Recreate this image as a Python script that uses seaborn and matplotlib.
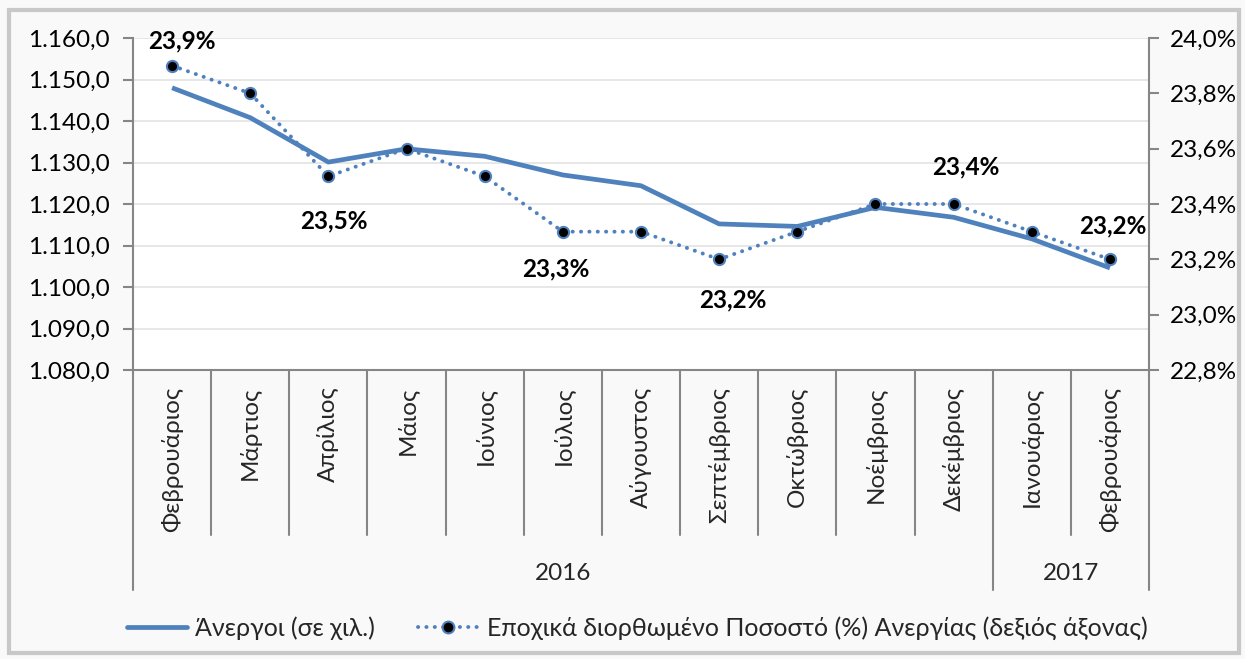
import numpy as np
import pandas as pd
import matplotlib
matplotlib.use('Agg')
import matplotlib.pyplot as plt
import seaborn as sns
from matplotlib.patches import Rectangle
from matplotlib.lines import Line2D
from matplotlib.ticker import FuncFormatter, MultipleLocator

months = ['Φεβρουάριος', 'Μάρτιος', 'Απρίλιος', 'Μάιος', 'Ιούνιος', 'Ιούλιος',
          'Αύγουστος', 'Σεπτέμβριος', 'Οκτώβριος', 'Νοέμβριος', 'Δεκέμβριος',
          'Ιανουάριος', 'Φεβρουάριος']
years = ['2016', '2017']
year_counts = [11, 2]

# unemployed persons (thousands), left axis
unemployed = [1148.0, 1140.8, 1130.1, 1133.3, 1131.5, 1127.0, 1124.4,
              1115.2, 1114.6, 1119.2, 1116.8, 1111.6, 1104.6]
# seasonally adjusted unemployment rate (%), right axis
rate = [23.9, 23.8, 23.5, 23.6, 23.5, 23.3, 23.3, 23.2, 23.3, 23.4, 23.4, 23.3, 23.2]

# which points get a value label, and the label offset in points
label_idx = [0, 2, 5, 7, 10, 12]
label_off = [(7, 18), (4, -32), (-5, -27), (10, -29), (9, 27), (2, 24)]

sns.set_style('white')
plt.rcParams['font.family'] = ['Lato', 'DejaVu Sans']

blue = '#4F81BD'
grey = '#868686'
fs = 17.5

df = pd.DataFrame({'pos': np.arange(len(months)), 'month': months,
                   'unemployed': unemployed, 'rate': rate})

fig = plt.figure(figsize=(12.45, 6.59), dpi=100, facecolor='#f9f9f9')
W, H = 1245, 659
x0, x1, y0, y1 = 133, 1149, 38, 370
ax = fig.add_axes([x0 / W, 1 - y1 / H, (x1 - x0) / W, (y1 - y0) / H])
ax.set_facecolor('white')

sns.lineplot(data=df, x='pos', y='unemployed', ax=ax, color=blue, lw=3.4,
             solid_capstyle='butt', legend=False)
ax.set_xlim(-0.5, len(months) - 0.5)
ax.set_ylim(1080, 1160)
ax.yaxis.set_major_locator(MultipleLocator(10))
ax.yaxis.set_major_formatter(FuncFormatter(
    lambda v, p: f'{v:,.1f}'.replace(',', 'X').replace('.', ',').replace('X', '.')))
ax.grid(axis='y', color='#e3e3e3', lw=1.2)
ax.set_axisbelow(True)

ax2 = ax.twinx()
sns.lineplot(data=df, x='pos', y='rate', ax=ax2, color=blue, lw=2.8,
             linestyle=(0, (0.05, 2.1)), dash_capstyle='round', legend=False)
sns.scatterplot(data=df, x='pos', y='rate', ax=ax2, color='black', s=65,
                edgecolor=blue, linewidth=1.5, zorder=5, legend=False)
ax2.set_ylim(22.8, 24.0)
ax2.yaxis.set_major_locator(MultipleLocator(0.2))
ax2.yaxis.set_major_formatter(FuncFormatter(lambda v, p: f'{v:.1f}%'.replace('.', ',')))

for i, (dx, dy) in zip(label_idx, label_off):
    ax2.annotate(f'{rate[i]:.1f}%'.replace('.', ','), (i, rate[i]),
                 xytext=(dx, dy), textcoords='offset points', ha='center', va='center',
                 fontsize=fs, fontweight='bold', color='black')

for a in (ax, ax2):
    for s in a.spines.values():
        s.set_visible(False)
    a.set_xlabel('')
    a.set_ylabel('')
ax.spines['left'].set_visible(True)
ax.spines['bottom'].set_visible(True)
ax2.spines['right'].set_visible(True)
for s in (ax.spines['left'], ax.spines['bottom'], ax2.spines['right']):
    s.set_color(grey)
    s.set_linewidth(1.5)

ax.tick_params(axis='y', length=7, width=1.5, color=grey, labelsize=fs, pad=10,
               labelcolor='black', left=True)
ax2.tick_params(axis='y', length=7, width=1.5, color=grey, labelsize=fs, pad=8,
                labelcolor='black', right=True)
ax.set_xticks(df['pos'])
ax.set_xticklabels(months, rotation=90, fontsize=fs)
ax.tick_params(axis='x', length=0, pad=12, bottom=False)

# category separators and year groups under the axis
n = len(months)
month_drop = (535 - y1) / (y1 - y0)
year_drop = (590 - y1) / (y1 - y0)
bounds = np.cumsum([0] + year_counts)
for k in range(n + 1):
    xe = k - 0.5
    d = year_drop if k in bounds else month_drop
    ax.plot([xe, xe], [0, -d], transform=ax.get_xaxis_transform(), color=grey,
            lw=1.5, clip_on=False)
for yr, a_, b_ in zip(years, bounds[:-1], bounds[1:]):
    ax.text((a_ + b_ - 1) / 2, -(573 - y1) / (y1 - y0), yr, transform=ax.get_xaxis_transform(),
            ha='center', va='center', fontsize=fs)

handles = [Line2D([], [], color=blue, lw=3.4),
           Line2D([], [], color=blue, lw=2.8, linestyle=(0, (0.05, 2.1)),
                  dash_capstyle='round', marker='o', markersize=8.5,
                  markerfacecolor='black', markeredgecolor=blue, markeredgewidth=1.5)]
fig.legend(handles, ['Άνεργοι (σε χιλ.)',
                     'Εποχικά διορθωμένο Ποσοστό (%) Ανεργίας (δεξιός άξονας)'],
           loc='center', bbox_to_anchor=(637 / W, 1 - 628 / H), ncol=2, frameon=False,
           fontsize=18, handlelength=2.4, columnspacing=1.7, handletextpad=0.35)

fig.patches.append(Rectangle((9 / W, 6 / H), 1230 / W, 643 / H, transform=fig.transFigure,
                             fill=False, edgecolor='#c8c8c8', lw=3))

fig.savefig('out.png', dpi=100, facecolor=fig.get_facecolor())
